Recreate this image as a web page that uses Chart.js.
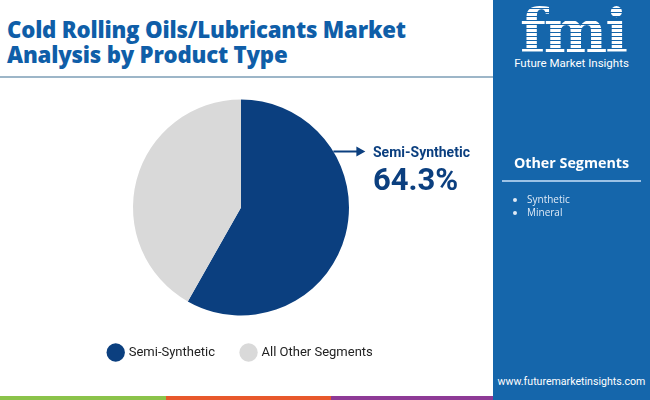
<!DOCTYPE html>
<html>
<head>
<meta charset="utf-8">
<script src="https://cdn.jsdelivr.net/npm/chart.js@4.4.1/dist/chart.umd.min.js"></script>
<style>
  html, body { margin: 0; padding: 0; background: #fff; }
  body { width: 650px; height: 400px; position: relative; overflow: hidden; font-family: Roboto, "Open Sans", sans-serif; }
  .title { position: absolute; left: 7px; top: 17px; margin: 0; font-family: "Open Sans", sans-serif; font-weight: 800;
           font-size: 22.2px; line-height: 25px; color: #0f5ea8; letter-spacing: -0.2px; }
  .rule { position: absolute; left: 0; top: 76px; width: 493px; height: 2px; background: #9db6c8; }
  .panel { position: absolute; left: 493px; top: 0; width: 157px; height: 400px; background: #1566ab; color: #fff; }
  .logo { position: absolute; left: 18px; top: 1px; width: 124px; text-align: center; font-family: "DejaVu Serif", serif;
          font-weight: bold; font-size: 60px; line-height: 60px; letter-spacing: -2px;
          background: repeating-linear-gradient(#fff 0 3px, #1566ab 3px 4px); -webkit-background-clip: text; background-clip: text; color: transparent; }
  .logo-sub { position: absolute; left: 0; top: 56px; width: 157px; text-align: center; font-family: Roboto, sans-serif;
              font-size: 11.5px; color: #fff; }
  .seg-title { position: absolute; left: 0; top: 153px; width: 157px; text-align: center; font-family: "Open Sans", sans-serif;
               font-weight: 700; font-size: 14.3px; color: #fff; }
  .seg-rule { position: absolute; left: 9px; top: 180px; width: 139px; height: 2px; background: #9cc2e6; }
  .seg-list { position: absolute; left: 23px; top: 193px; margin: 0; padding: 0 0 0 11px; font-family: "Open Sans", sans-serif;
              font-size: 10px; line-height: 12.5px; color: #dfeaf6; }
  .url { position: absolute; left: 0; top: 375px; width: 157px; text-align: center; font-family: Roboto, sans-serif; font-size: 10.6px; color: #fff; }
  .bar { position: absolute; top: 396px; height: 4px; }
  .callout { position: absolute; left: 373px; top: 142px; color: #0b3f7f; font-family: Roboto, sans-serif; font-weight: bold; }
  .callout .name { font-size: 14px; line-height: 20px; }
  .callout .pct { font-size: 31px; line-height: 36px; }
  #wrap { position: absolute; left: 0; top: 94px; width: 482px; height: 283px; }
</style>
</head>
<body>
<h1 class="title">Cold Rolling Oils/Lubricants Market<br>Analysis by Product Type</h1>
<div class="rule"></div>

<div id="wrap"><canvas id="pie"></canvas></div>

<div class="callout"><div class="name">Semi-Synthetic</div><div class="pct">64.3%</div></div>

<div class="panel">
  <div class="logo">fmi</div>
  <div class="logo-sub">Future Market Insights</div>
  <div class="seg-title">Other Segments</div>
  <div class="seg-rule"></div>
  <ul class="seg-list" id="segs"></ul>
  <div class="url">www.futuremarketinsights.com</div>
</div>

<div class="bar" style="left:0;width:166px;background:#8bc34a"></div>
<div class="bar" style="left:166px;width:165px;background:#e8582b"></div>
<div class="bar" style="left:331px;width:162px;background:#8e3a96"></div>

<script>
// values as drawn in the pie (the callout text keeps the published 64.3%)
const categories = ["Semi-Synthetic", "All Other Segments"];
const shares     = [58.2, 41.8];
const colours    = ["#0b3f7f", "#d9d9d9"];
const otherSegs  = ["Synthetic", "Mineral"];

document.getElementById("segs").innerHTML = otherSegs.map(s => `<li>${s}</li>`).join("");

// arrow from the pie edge out to the callout text
const calloutArrow = {
  id: "calloutArrow",
  afterDraw(chart) {
    const arc = chart.getDatasetMeta(0).data[0];
    if (!arc) return;
    const { x, y, outerRadius } = arc.getProps(["x", "y", "outerRadius"], true);
    const a  = -Math.asin(56 / 108);          // point on the rim, a bit above centre
    const x0 = x + outerRadius * Math.cos(a);
    const y0 = y + outerRadius * Math.sin(a);
    const x1 = x0 + 29;
    const ctx = chart.ctx;
    ctx.save();
    ctx.strokeStyle = ctx.fillStyle = colours[0];
    ctx.lineWidth = 2;
    ctx.beginPath(); ctx.moveTo(x0, y0); ctx.lineTo(x1 - 2, y0); ctx.stroke();
    ctx.beginPath(); ctx.moveTo(x1 + 3, y0); ctx.lineTo(x1 - 6, y0 - 5); ctx.lineTo(x1 - 6, y0 + 5); ctx.closePath(); ctx.fill();
    ctx.restore();
  }
};

new Chart(document.getElementById("pie"), {
  type: "pie",
  data: {
    labels: categories,
    datasets: [{ data: shares, backgroundColor: colours, borderWidth: 0, radius: 108 }]
  },
  options: {
    responsive: true, maintainAspectRatio: false, animation: false,
    layout: { padding: { top: 2, bottom: 8 } },
    plugins: {
      legend: {
        position: "bottom",
        labels: {
          usePointStyle: true, pointStyle: "circle", boxHeight: 14, padding: 27,
          color: "#222", font: { family: "Roboto", size: 13 }
        }
      },
      tooltip: { enabled: false }
    }
  },
  plugins: [calloutArrow]
});
</script>
</body>
</html>
